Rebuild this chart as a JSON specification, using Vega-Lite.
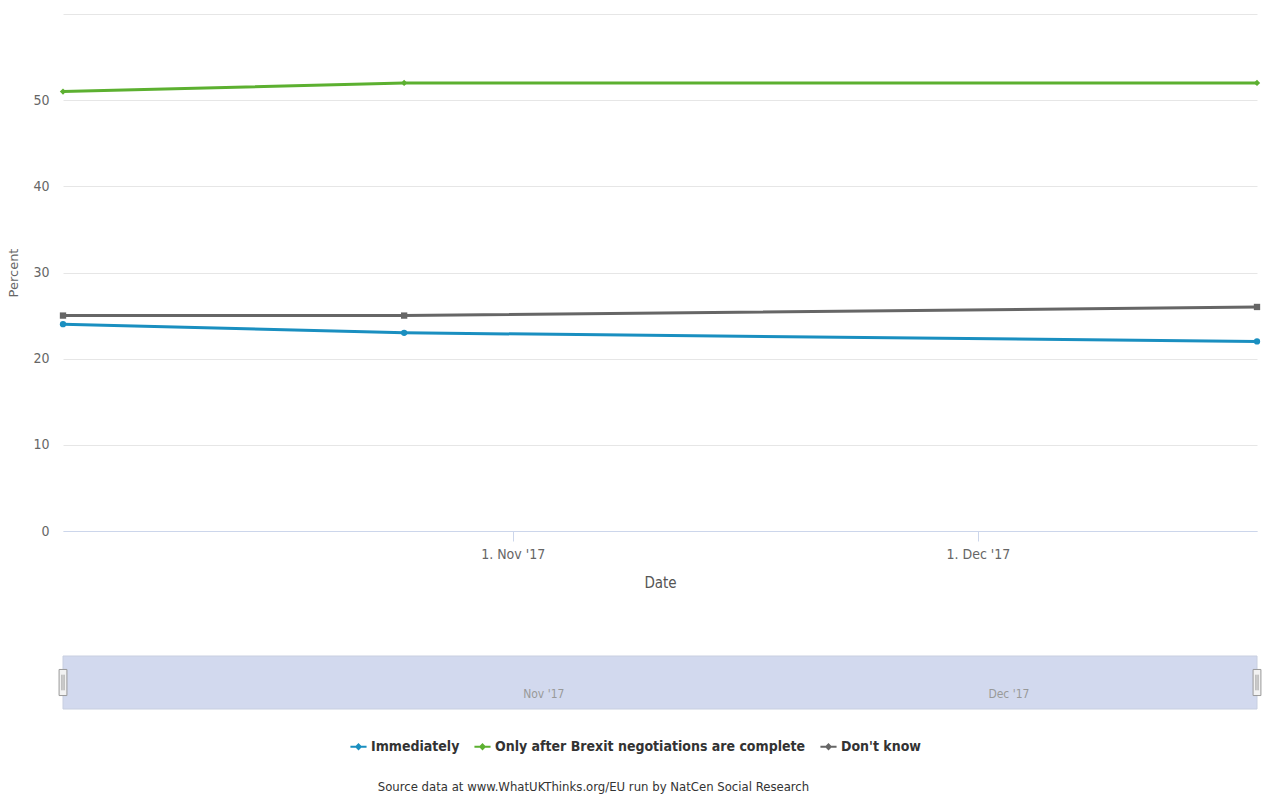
{
  "$schema": "https://vega.github.io/schema/vega-lite/v6.json",
  "background": "white",
  "padding": {"left": 7, "top": 14, "right": 8, "bottom": 5},
  "spacing": 65,
  "config": {
    "view": {"stroke": null},
    "font": "Liberation Sans Narrow, DejaVu Sans Condensed, Liberation Sans, sans-serif"
  },
  "datasets": {
    "polls": [
      {"date": "2017-10-03T00:00", "series": "Immediately", "value": 24},
      {"date": "2017-10-25T00:00", "series": "Immediately", "value": 23},
      {"date": "2017-12-19T00:00", "series": "Immediately", "value": 22},
      {"date": "2017-10-03T00:00", "series": "Only after Brexit negotiations are complete", "value": 51},
      {"date": "2017-10-25T00:00", "series": "Only after Brexit negotiations are complete", "value": 52},
      {"date": "2017-12-19T00:00", "series": "Only after Brexit negotiations are complete", "value": 52},
      {"date": "2017-10-03T00:00", "series": "Don't know", "value": 25},
      {"date": "2017-10-25T00:00", "series": "Don't know", "value": 25},
      {"date": "2017-12-19T00:00", "series": "Don't know", "value": 26}
    ],
    "nav": [
      {"start": "2017-10-03T00:00", "end": "2017-12-19T00:00"}
    ],
    "handles": [
      {"date": "2017-10-03T00:00"},
      {"date": "2017-12-19T00:00"}
    ]
  },
  "title": {
    "text": "Source data at www.WhatUKThinks.org/EU run by NatCen Social Research",
    "orient": "bottom",
    "anchor": "middle",
    "fontSize": 13,
    "fontWeight": "normal",
    "color": "#333333",
    "offset": 27,
    "dx": -42
  },
  "vconcat": [
    {
      "width": 1194,
      "height": 517,
      "data": {"name": "polls"},
      "encoding": {
        "x": {
          "field": "date",
          "type": "temporal",
          "title": "Date",
          "scale": {"domain": [{"year": 2017, "month": 10, "date": 3}, {"year": 2017, "month": 12, "date": 19}], "nice": false},
          "axis": {
            "values": [{"year": 2017, "month": 11, "date": 1}, {"year": 2017, "month": 12, "date": 1}],
            "format": "%-d. %b '%y",
            "grid": false,
            "domainColor": "#ccd6eb",
            "tickColor": "#ccd6eb",
            "tickSize": 10,
            "labelFontSize": 14,
            "labelColor": "#666666",
            "labelPadding": 6,
            "titleFontSize": 15,
            "titleFontWeight": "normal",
            "titleColor": "#555555",
            "titlePadding": 14
          }
        },
        "y": {
          "field": "value",
          "type": "quantitative",
          "title": "Percent",
          "scale": {"domain": [0, 60], "nice": false},
          "axis": {
            "values": [0, 10, 20, 30, 40, 50, 60],
            "labelExpr": "datum.value == 60 ? '' : datum.label",
            "domain": false,
            "ticks": false,
            "gridColor": "#e6e6e6",
            "labelFontSize": 14,
            "labelColor": "#666666",
            "labelPadding": 14,
            "titleFont": "DejaVu Sans",
            "titleFontSize": 13,
            "titleFontWeight": "normal",
            "titleColor": "#666666",
            "titlePadding": 12
          }
        },
        "color": {
          "field": "series",
          "type": "nominal",
          "sort": ["Immediately", "Only after Brexit negotiations are complete", "Don't know"],
          "scale": {
            "domain": ["Immediately", "Only after Brexit negotiations are complete", "Don't know"],
            "range": ["#1a8fc0", "#5cb030", "#666666"]
          },
          "legend": {
            "title": null,
            "orient": "none",
            "direction": "horizontal",
            "legendX": 287,
            "legendY": 724,
            "symbolType": "M-1,-0.13L1,-0.13L1,0.13L-1,0.13Z M0,-0.45L0.45,0L0,0.45L-0.45,0Z",
            "symbolSize": 260,
            "symbolStrokeWidth": 0,
            "labelFontSize": 14,
            "labelFontWeight": "bold",
            "labelColor": "#333333",
            "labelLimit": 0,
            "columnPadding": 14
          }
        }
      },
      "layer": [
        {"mark": {"type": "line", "strokeWidth": 3}},
        {
          "transform": [{"filter": "datum.series === 'Immediately'"}],
          "mark": {"type": "point", "filled": true, "size": 40, "opacity": 1, "shape": "circle"}
        },
        {
          "transform": [{"filter": "datum.series === 'Only after Brexit negotiations are complete'"}],
          "mark": {"type": "point", "filled": true, "size": 40, "opacity": 1, "shape": "diamond"}
        },
        {
          "transform": [{"filter": "datum.series === \"Don't know\""}],
          "mark": {"type": "point", "filled": true, "size": 40, "opacity": 1, "shape": "square"}
        }
      ]
    },
    {
      "width": 1194,
      "height": 53,
      "layer": [
        {
          "data": {"name": "nav"},
          "mark": {"type": "rect", "color": "#d2d9ee", "stroke": "#c8cfe0", "strokeWidth": 1},
          "encoding": {
            "x": {
              "field": "start",
              "type": "temporal",
              "title": null,
              "scale": {"domain": [{"year": 2017, "month": 10, "date": 3}, {"year": 2017, "month": 12, "date": 19}], "nice": false},
              "axis": {
                "values": [{"year": 2017, "month": 11, "date": 1}, {"year": 2017, "month": 12, "date": 1}],
                "format": "%b '%y",
                "grid": false,
                "domain": false,
                "ticks": false,
                "zindex": 2,
                "labelAlign": "left",
                "labelBaseline": "middle",
                "labelOffset": 10,
                "labelPadding": -16,
                "labelFontSize": 12,
                "labelColor": "#999999"
              }
            },
            "x2": {"field": "end"}
          }
        },
        {
          "data": {"name": "handles"},
          "mark": {"type": "point", "filled": true, "fill": "#f2f2f2", "stroke": "#999999", "strokeWidth": 1, "opacity": 1, "shape": "M-0.3,-1L0.3,-1L0.3,1L-0.3,1Z M-0.08,-0.6L-0.08,0.6 M0.08,-0.6L0.08,0.6", "size": 680},
          "encoding": {
            "x": {"field": "date", "type": "temporal"}
          }
        }
      ]
    }
  ]
}
